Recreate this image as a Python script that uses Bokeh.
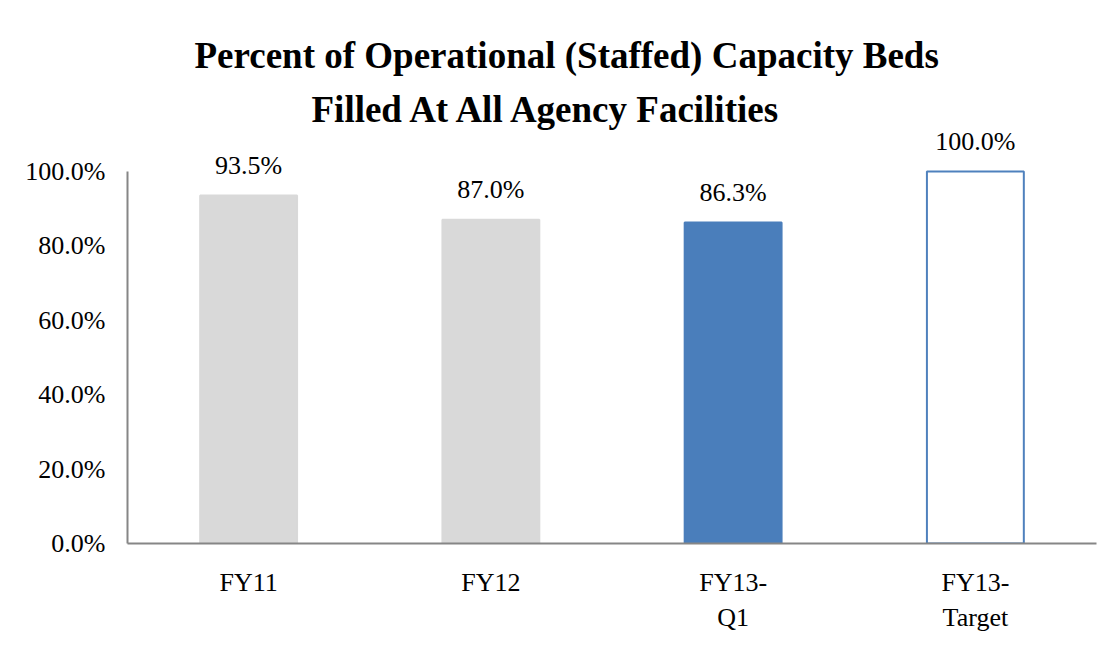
from bokeh.plotting import figure
from bokeh.models import (ColumnDataSource, Title, FixedTicker, PrintfTickFormatter,
                          LinearAxis, Range1d)
from bokeh.core.properties import value
from bokeh.embed import file_html
from bokeh.resources import INLINE

categories = ["FY11", "FY12", "FY13-Q1", "FY13-Target"]
label_line1 = ["FY11", "FY12", "FY13-", "FY13-"]
label_line2 = ["", "", "Q1", "Target"]
values = [93.5, 87.0, 86.3, 100.0]
value_labels = ["93.5%", "87.0%", "86.3%", "100.0%"]
fill_colors = ["#D9D9D9", "#D9D9D9", "#4A7EBB", "#FFFFFF"]
line_colors = ["#D9D9D9", "#D9D9D9", "#4A7EBB", "#4F81BD"]
y_ticks = [0, 20, 40, 60, 80, 100]

FONT = "Liberation Serif"
FS = "26px"

xpos = list(range(len(categories)))

src = ColumnDataSource(dict(x=xpos, cat=categories, val=values, lab=value_labels,
                            fill=fill_colors, line=line_colors))

p = figure(x_range=Range1d(-0.5, len(categories) - 0.5), y_range=(0, 111),
           width=1103, height=637,
           output_backend="svg", toolbar_location=None,
           min_border_left=127, min_border_right=7, min_border_bottom=94,
           min_border_top=130)

p.vbar(x="x", top="val", width=0.4, bottom=0, source=src,
       fill_color="fill", line_color="line", line_width=2)

p.text(x="x", y="val", text="lab", source=src, y_offset=-30,
       text_align="center", text_baseline="alphabetic",
       text_font=value(FONT), text_font_size=FS, text_color="#000000")

t2 = Title(text="Filled At All Agency Facilities", align="left",
           text_font=FONT, text_font_size="37px", text_font_style="bold",
           text_color="#000000", standoff=2, offset=184)
t1 = Title(text="Percent of Operational (Staffed) Capacity Beds", align="left",
           text_font=FONT, text_font_size="37px", text_font_style="bold",
           text_color="#000000", standoff=20, offset=67)
p.add_layout(t2, "above")
p.add_layout(t1, "above")

p.xgrid.visible = False
p.ygrid.visible = False
p.outline_line_color = None
p.background_fill_color = "#FFFFFF"
p.border_fill_color = "#FFFFFF"

ya = p.yaxis[0]
ya.ticker = FixedTicker(ticks=y_ticks)
ya.formatter = PrintfTickFormatter(format="%.1f%%")
ya.bounds = (0, 100)
ya.axis_line_color = "#868686"
ya.axis_line_width = 2
ya.major_tick_line_color = None
ya.minor_tick_line_color = None
ya.major_label_standoff = 16
ya.major_label_text_font = FONT
ya.major_label_text_font_size = FS
ya.major_label_text_color = "#000000"

xa = p.xaxis[0]
xa.ticker = FixedTicker(ticks=xpos)
xa.axis_line_color = "#868686"
xa.axis_line_width = 2
xa.major_tick_line_color = None
xa.minor_tick_line_color = None
xa.major_label_standoff = 18
xa.major_label_overrides = dict(zip(xpos, label_line1))
xa.major_label_text_font = FONT
xa.major_label_text_font_size = FS
xa.major_label_text_color = "#000000"

xa2 = LinearAxis(ticker=FixedTicker(ticks=xpos))
xa2.axis_line_color = None
xa2.major_tick_line_color = None
xa2.minor_tick_line_color = None
xa2.major_label_standoff = -3
xa2.major_label_overrides = dict(zip(xpos, label_line2))
xa2.major_label_text_font = FONT
xa2.major_label_text_font_size = FS
xa2.major_label_text_color = "#000000"
p.add_layout(xa2, "below")

open("out.html", "w").write(file_html(p, INLINE))
